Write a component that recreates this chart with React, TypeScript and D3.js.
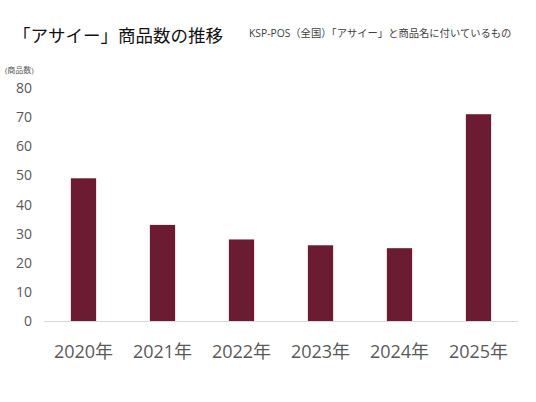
import React from "react"
import * as d3 from "d3"

const years = ["2020年", "2021年", "2022年", "2023年", "2024年", "2025年"]
const productCounts = [49, 33, 28, 26, 25, 71]
const yTicks = [0, 10, 20, 30, 40, 50, 60, 70, 80]

const WIDTH = 536
const HEIGHT = 402
const FONT = "'Open Sans', 'Noto Sans CJK JP', sans-serif"
const BAR_COLOR = "#6b1c33"
const TEXT_COLOR = "#595959"

const margin = { left: 44, right: 18, top: 88, bottom: 81 }

const App: React.FC = () => {
  const x = d3
    .scaleBand<string>()
    .domain(years)
    .range([margin.left, WIDTH - margin.right])
    .paddingInner(0.68)
    .paddingOuter(0.34)

  const y = d3
    .scaleLinear()
    .domain([0, 80])
    .range([HEIGHT - margin.bottom, margin.top])

  return (
    <div style={{ position: "absolute", left: 0, top: 0 }}>
      <svg width={WIDTH} height={HEIGHT} style={{ display: "block", background: "#fff" }} fontFamily={FONT}>
        {/* titles */}
        <text x={13} y={42} fontSize={17.5} fill="#111">
          「アサイー」商品数の推移
        </text>
        <text x={249} y={37} fontSize={10.3} fill="#404040">
          KSP-POS（全国）「アサイー」と商品名に付いているもの
        </text>
        <text x={5} y={73} fontSize={8} fill={TEXT_COLOR}>
          (商品数)
        </text>

        {/* y axis labels */}
        {yTicks.map((t) => (
          <text key={t} x={32} y={y(t)} dy="0.36em" textAnchor="end" fontSize={14} fill={TEXT_COLOR}>
            {t}
          </text>
        ))}

        {/* bars */}
        {years.map((yr, i) => (
          <rect
            key={yr}
            x={x(yr)}
            y={y(productCounts[i])}
            width={x.bandwidth()}
            height={y(0) - y(productCounts[i])}
            fill={BAR_COLOR}
          />
        ))}

        {/* baseline */}
        <line
          x1={margin.left}
          x2={WIDTH - margin.right}
          y1={y(0) + 0.5}
          y2={y(0) + 0.5}
          stroke="#d9d9d9"
          strokeWidth={1}
        />

        {/* x labels */}
        {years.map((yr) => (
          <text
            key={yr}
            x={(x(yr) ?? 0) + x.bandwidth() / 2}
            y={358}
            textAnchor="middle"
            fontSize={18}
            fill={TEXT_COLOR}
          >
            {yr}
          </text>
        ))}
      </svg>
    </div>
  )
}

export default App
